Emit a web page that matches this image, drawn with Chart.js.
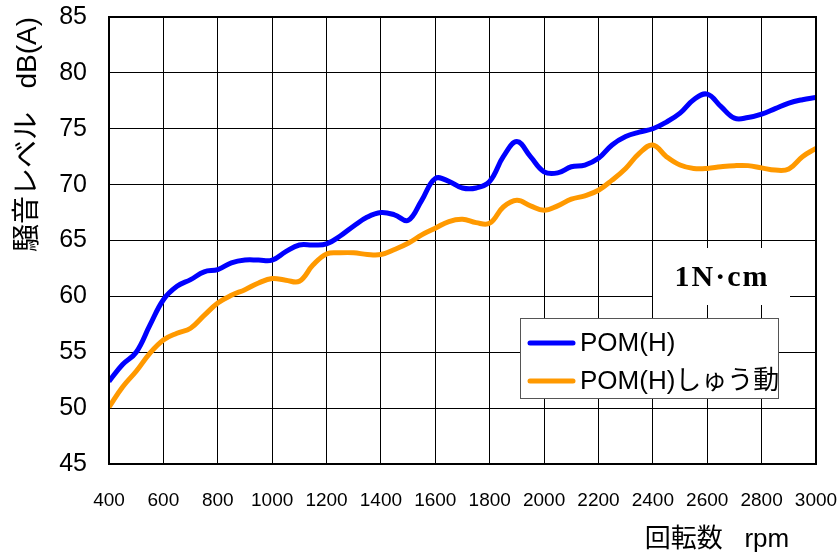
<!DOCTYPE html>
<html>
<head>
<meta charset="utf-8">
<script src="https://cdn.jsdelivr.net/npm/chart.js@4.4.1/dist/chart.umd.min.js"></script>
<style>
  body { margin: 0; background: #fff; }
  #wrap { width: 840px; height: 555px; }
</style>
</head>
<body>
<div id="wrap"><canvas id="chart" width="840" height="555"></canvas></div>
<script>
const FONT = "'Liberation Sans', 'Noto Sans CJK JP', sans-serif";

const rpm = [400, 450, 500, 550, 600, 650, 700, 750, 800, 850, 900, 950, 1000,
  1050, 1100, 1150, 1200, 1250, 1300, 1350, 1400, 1450, 1500, 1550, 1600,
  1650, 1700, 1750, 1800, 1850, 1900, 1950, 2000, 2050, 2100, 2150, 2200,
  2250, 2300, 2350, 2400, 2450, 2500, 2550, 2600, 2650, 2700, 2750, 2800,
  2850, 2900, 2950, 3000];

const pomH = [52.4, 53.9, 55.0, 57.4, 59.7, 60.9, 61.5, 62.2, 62.4, 63.0, 63.25, 63.25, 63.25,
  64.0, 64.6, 64.6, 64.7, 65.4, 66.3, 67.1, 67.5, 67.3, 66.8, 68.6, 70.55,
  70.3, 69.7, 69.7, 70.3, 72.5, 73.85, 72.5, 71.15, 71.05, 71.6, 71.75, 72.35,
  73.55, 74.3, 74.7, 75.0, 75.6, 76.4, 77.6, 78.1, 77.0, 75.95, 76.0, 76.3,
  76.8, 77.3, 77.6, 77.8];

const pomHSliding = [50.1, 51.9, 53.3, 54.9, 56.1, 56.7, 57.15, 58.3, 59.4, 60.1, 60.6, 61.2, 61.6,
  61.45, 61.35, 62.8, 63.8, 63.9, 63.9, 63.75, 63.75, 64.2, 64.75, 65.5, 66.1,
  66.7, 66.9, 66.6, 66.55, 68.0, 68.6, 68.1, 67.7, 68.1, 68.7, 69.0, 69.5,
  70.4, 71.45, 72.8, 73.55, 72.5, 71.75, 71.45, 71.45, 71.6, 71.7, 71.7, 71.5,
  71.3, 71.4, 72.5, 73.25];

const seriesNames = ['POM(H)', 'POM(H)しゅう動'];
const seriesColors = ['#0000ff', '#ff9900'];
const loadLabel = '1N·cm';
const xTitle = '回転数   rpm';
const yTitle = '騒音レベル   dB(A)';

function pts(ys) {
  return rpm.map((x, i) => ({ x: x, y: ys[i] }));
}

// frame, load label box, legend and x title
const extras = {
  id: 'extras',
  afterDatasetsDraw(chart) {
    const c = chart.ctx;
    const a = chart.chartArea;
    c.save();
    c.strokeStyle = '#000';
    c.lineWidth = 2;
    c.strokeRect(a.left, a.top, a.right - a.left, a.bottom - a.top);

    // load label
    c.fillStyle = '#fff';
    c.fillRect(653, 248, 137, 57);
    c.fillStyle = '#000';
    c.font = "bold 30px 'Liberation Serif', serif";
    c.letterSpacing = '2px';
    c.textAlign = 'center';
    c.textBaseline = 'middle';
    c.fillText(loadLabel, 722, 278);
    c.letterSpacing = '0px';

    // legend
    c.fillStyle = '#fff';
    c.fillRect(520, 318, 258, 80);
    c.strokeStyle = '#555';
    c.lineWidth = 1;
    c.strokeRect(520.5, 318.5, 258, 80);
    c.font = '26px ' + FONT;
    c.textAlign = 'left';
    chart.data.datasets.forEach((ds, i) => {
      const y = 343 + i * 38;
      c.strokeStyle = ds.borderColor;
      c.lineWidth = 5;
      c.lineCap = 'round';
      c.beginPath();
      c.moveTo(530, y);
      c.lineTo(573, y);
      c.stroke();
      c.fillStyle = '#000';
      c.fillText(ds.label, 580, y + 1);
    });

    // x title
    c.font = '26px ' + FONT;
    c.textAlign = 'center';
    c.fillText(xTitle, 717, 540);
    c.restore();
  }
};

new Chart(document.getElementById('chart'), {
  type: 'line',
  data: {
    datasets: [
      { label: seriesNames[0], data: pts(pomH), borderColor: seriesColors[0],
        borderWidth: 5, pointRadius: 0, tension: 0.4, fill: false },
      { label: seriesNames[1], data: pts(pomHSliding), borderColor: seriesColors[1],
        borderWidth: 5, pointRadius: 0, tension: 0.4, fill: false }
    ]
  },
  options: {
    responsive: false,
    animation: false,
    layout: { padding: { top: 17, right: 24, bottom: 0, left: 0 } },
    plugins: { legend: { display: false }, tooltip: { enabled: false } },
    scales: {
      x: {
        type: 'linear',
        min: 400,
        max: 3000,
        afterFit(s) { s.height = 91; s.paddingLeft = 0; s.paddingRight = 0; },
        ticks: { stepSize: 200, padding: 25, color: '#000', font: { family: FONT, size: 19 },
          callback: (v) => String(v) },
        grid: { color: '#000', lineWidth: 1, drawTicks: false },
        border: { color: '#000', width: 2 }
      },
      y: {
        min: 45,
        max: 85,
        afterFit(s) { s.width = 109; s.paddingTop = 0; s.paddingBottom = 0; },
        ticks: { stepSize: 5, padding: 22, color: '#000', font: { family: FONT, size: 25 } },
        grid: { color: '#000', lineWidth: 1, drawTicks: false },
        border: { color: '#000', width: 2 },
        title: {
          display: true,
          text: yTitle,
          align: 'end',
          color: '#000',
          font: { family: FONT, size: 28, lineHeight: 1 },
          padding: { top: 14, bottom: 0 }
        }
      }
    }
  },
  plugins: [extras]
});
</script>
</body>
</html>
